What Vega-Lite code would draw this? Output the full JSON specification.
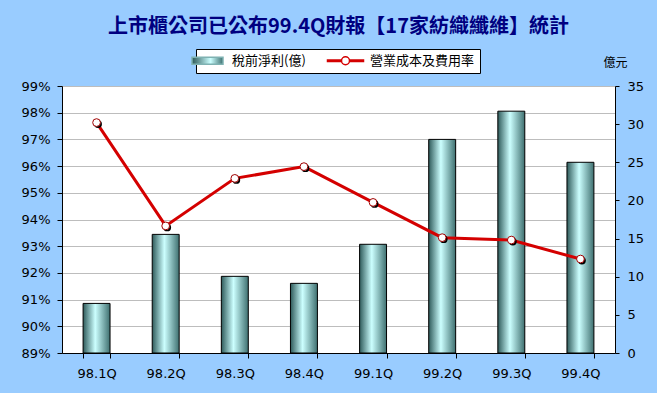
{
  "$schema": "https://vega.github.io/schema/vega-lite/v6.json",
  "width": 553,
  "height": 267,
  "autosize": {"type": "none"},
  "padding": {"left": 62, "top": 86, "right": 42, "bottom": 40},
  "background": "#99CCFF",
  "title": {
    "text": "上市櫃公司已公布99.4Q財報【17家紡織纖維】統計",
    "font": "Noto Sans CJK TC",
    "fontSize": 20,
    "fontWeight": "bold",
    "color": "#000080",
    "anchor": "middle",
    "frame": "group",
    "offset": 12
  },
  "config": {
    "view": {"stroke": null, "fill": "white"},
    "axis": {
      "labelFont": "DejaVu Sans",
      "labelFontSize": 13,
      "labelColor": "black",
      "domainColor": "black",
      "tickColor": "black",
      "domainWidth": 1,
      "tickWidth": 1,
      "labelOverlap": false
    }
  },
  "data": {
    "values": [
      {"q": "98.1Q", "profit": 6.5, "rate": 97.63},
      {"q": "98.2Q", "profit": 15.55, "rate": 93.76},
      {"q": "98.3Q", "profit": 10.05, "rate": 95.54},
      {"q": "98.4Q", "profit": 9.13, "rate": 95.98},
      {"q": "99.1Q", "profit": 14.25, "rate": 94.64},
      {"q": "99.2Q", "profit": 28.0, "rate": 93.32},
      {"q": "99.3Q", "profit": 31.7, "rate": 93.23},
      {"q": "99.4Q", "profit": 25.0, "rate": 92.52}
    ]
  },
  "encoding": {
    "x": {
      "field": "q",
      "type": "ordinal",
      "sort": null,
      "scale": {"paddingInner": 0.61, "paddingOuter": 0.305},
      "axis": {
        "title": null,
        "labelAngle": 0,
        "tickBand": "extent",
        "tickSize": 5,
        "labelPadding": 9,
        "grid": false
      }
    }
  },
  "layer": [
    {
      "mark": {
        "type": "bar",
        "stroke": "black",
        "strokeWidth": 1,
        "fill": {
          "gradient": "linear",
          "x1": 0, "y1": 0, "x2": 1, "y2": 0,
          "stops": [
            {"offset": 0, "color": "#2E5A5A"},
            {"offset": 0.45, "color": "#CCFFFF"},
            {"offset": 1, "color": "#3F7070"}
          ]
        }
      },
      "encoding": {
        "y": {
          "field": "profit",
          "type": "quantitative",
          "scale": {"domain": [0, 35], "nice": false},
          "axis": {
            "orient": "right",
            "values": [0, 5, 10, 15, 20, 25, 30, 35],
            "grid": false,
            "tickSize": 4,
            "labelPadding": 8,
            "labelOverlap": false,
            "title": "億元",
            "titleFont": "Noto Sans CJK TC",
            "titleFontSize": 12,
            "titleFontWeight": "normal",
            "titleColor": "black",
            "titleAngle": 0,
            "titleAlign": "center",
            "titleBaseline": "middle",
            "titleX": 0,
            "titleY": -24
          }
        }
      }
    },
    {
      "encoding": {
        "y": {
          "field": "rate",
          "type": "quantitative",
          "scale": {"domain": [89, 99], "nice": false, "zero": false},
          "axis": {
            "orient": "left",
            "title": null,
            "values": [89, 90, 91, 92, 93, 94, 95, 96, 97, 98, 99],
            "labelExpr": "datum.value + '%'",
            "labelOverlap": false,
            "grid": true,
            "gridColor": "#BDBDBD",
            "gridWidth": 1,
            "tickSize": 5,
            "labelPadding": 7
          }
        }
      },
      "layer": [
        {
          "mark": {"type": "line", "strokeWidth": 3},
          "encoding": {
            "color": {
              "datum": "營業成本及費用率",
              "type": "nominal",
              "scale": {
                "domain": ["稅前淨利(億)", "營業成本及費用率"],
                "range": ["#7FB2B2", "#D40000"]
              },
              "legend": {
                "title": null,
                "orient": "none",
                "legendX": 134,
                "legendY": -37,
                "direction": "horizontal",
                "fillColor": "white",
                "strokeColor": "black",
                "padding": 5,
                "symbolSize": 100,
                "labelFont": "Noto Sans CJK TC",
                "labelFontSize": 13,
                "labelColor": "black",
                "labelOffset": 18,
                "columnPadding": 18,
                "encode": {
                  "symbols": {
                    "update": {
                      "shape": [
                        {"test": "datum.value === '稅前淨利(億)'", "value": "M-3.1,-0.7H3.1V0.7H-3.1Z"},
                        {"value": "M-3.6,-0.15H-0.8V0.15H-3.6ZM0.8,-0.15H3.6V0.15H0.8ZM0.8,0A0.8,0.8 0 1,1 -0.8,0A0.8,0.8 0 1,1 0.8,0Z"}
                      ],
                      "fill": [
                        {"test": "datum.value === '稅前淨利(億)'", "value": {
                          "gradient": "linear",
                          "x1": 0, "y1": 0, "x2": 1, "y2": 0,
                          "stops": [
                            {"offset": 0, "color": "#2E5A5A"},
                            {"offset": 0.6, "color": "#CCFFFF"},
                            {"offset": 1, "color": "#3F7070"}
                          ]
                        }},
                        {"value": "white"}
                      ],
                      "stroke": [
                        {"test": "datum.value === '稅前淨利(億)'", "value": "black"},
                        {"value": "#D40000"}
                      ],
                      "strokeWidth": {"value": 1.5},
                      "opacity": {"value": 1}
                    }
                  }
                }
              }
            }
          }
        },
        {
          "mark": {"type": "point", "filled": true, "color": "black", "size": 60, "xOffset": 1.5, "yOffset": 1.5, "opacity": 1}
        },
        {
          "mark": {"type": "point", "filled": true, "fill": "white", "stroke": "#A00000", "strokeWidth": 1, "size": 60, "opacity": 1}
        }
      ]
    }
  ],
  "resolve": {"scale": {"y": "independent"}}
}
